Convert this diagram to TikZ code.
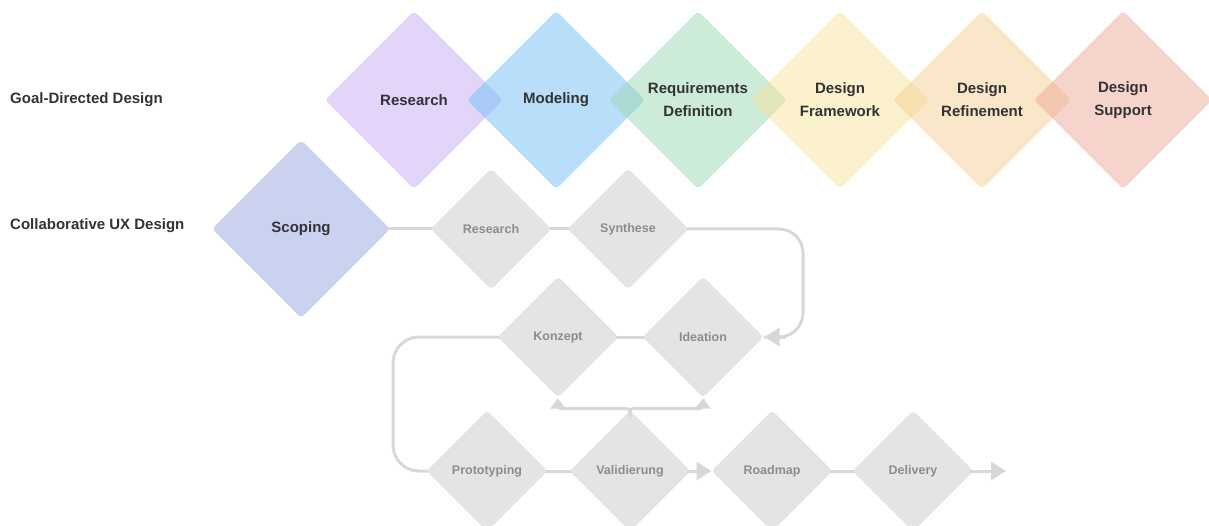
\documentclass[tikz,border=0pt]{standalone}
\usepackage{fontspec}
\setmainfont{Liberation Sans}
\usetikzlibrary{shapes.geometric,arrows.meta,backgrounds}
\definecolor{dark}{RGB}{51,51,51}
\definecolor{graytext}{RGB}{140,140,140}
\definecolor{grayfill}{RGB}{228,228,228}
\definecolor{linegray}{RGB}{216,216,216}
\definecolor{cres}{RGB}{199,171,245}
\definecolor{cmod}{RGB}{113,189,245}
\definecolor{creq}{RGB}{155,215,179}
\definecolor{cfra}{RGB}{247,227,155}
\definecolor{cref}{RGB}{245,205,147}
\definecolor{csup}{RGB}{237,167,151}
\definecolor{cscope}{RGB}{203,210,240}
\begin{document}
\begin{tikzpicture}[x=1pt,y=-1pt,
  bigdia/.style={diamond, aspect=1, minimum width=178pt, minimum height=178pt,
    inner sep=0pt, outer sep=0pt, rounded corners=4pt, align=center,
    text=dark, font=\bfseries\fontsize{15}{23}\selectfont},
  goaldia/.style={bigdia, fill opacity=0.5, text opacity=1},
  smalldia/.style={diamond, aspect=1, minimum width=121pt, minimum height=121pt,
    inner sep=0pt, outer sep=0pt, rounded corners=4pt, fill=grayfill,
    text=graytext, font=\bfseries\fontsize{12.5}{15}\selectfont},
  rowlabel/.style={anchor=west, inner sep=0pt, text=dark,
    font=\bfseries\fontsize{15}{18}\selectfont},
  conn/.style={draw=linegray, line width=3pt},
  bigarrow/.style={-{Triangle[length=15pt,width=18pt]}},
  smallarrow/.style={-{Triangle[length=10pt,width=15pt]}}
]
\useasboundingbox (0,0) rectangle (1209,526);

% row labels
\node[rowlabel] (lgoal) at (10,100) {Goal-Directed Design};
\node[rowlabel] (lcollab) at (10,226) {Collaborative UX Design};

% Goal-Directed Design row
\node[goaldia, fill=cres] (gres) at (414,100) {Research};
\node[goaldia, fill=cmod] (gmod) at (556,100) {Modeling};
\node[goaldia, fill=creq] (greq) at (698,100) {Requirements\\Definition};
\node[goaldia, fill=cfra] (gfra) at (840,100) {Design\\Framework};
\node[goaldia, fill=cref] (gref) at (982,100) {Design\\Refinement};
\node[goaldia, fill=csup] (gsup) at (1123,100) {Design\\Support};

% Collaborative UX Design
\node[bigdia, fill=cscope] (scope) at (301,229) {Scoping};
\node[smalldia] (cres) at (491,229) {Research};
\node[smalldia] (synth) at (628,229) {Synthese};
\node[smalldia] (konz) at (558,337) {Konzept};
\node[smalldia] (idea) at (703,337) {Ideation};
\node[smalldia] (proto) at (487,471) {Prototyping};
\node[smalldia] (vali) at (630,471) {Validierung};
\node[smalldia] (road) at (772,471) {Roadmap};
\node[smalldia] (deli) at (913,471) {Delivery};
\coordinate (dend) at (1006,471);

% connectors
\begin{scope}[on background layer]
\draw[conn] (scope.center) -- (cres.center);
\draw[conn] (cres.center) -- (synth.center);
\draw[conn] (idea.center) -- (konz.center);
\draw[conn] (proto.center) -- (vali.center);
\draw[conn] (road.center) -- (deli.center);
\draw[conn, rounded corners=24pt, shorten <=-6pt] (synth.east) -- (803,229) -- (803,337) -- (idea.east);
\draw[conn, rounded corners=26pt, shorten <=-6pt, shorten >=-6pt] (konz.west) -- (393,337) -- (393,471) -- (proto.west);
\end{scope}
\draw[conn, bigarrow, shorten >=1pt] ([xshift=22pt]idea.east) -- (idea.east);
\draw[conn, smallarrow, rounded corners=3pt, shorten >=1pt] (vali.north) -- ++(0,-2) -| (konz.south);
\draw[conn, smallarrow, rounded corners=3pt, shorten >=1pt] (vali.north) -- ++(0,-2) -| (idea.south);
\draw[conn, bigarrow, shorten <=-4pt] (vali.east) -- (road.west);
\draw[conn, bigarrow, shorten <=-4pt] (deli.east) -- (dend);
\end{tikzpicture}
\end{document}
